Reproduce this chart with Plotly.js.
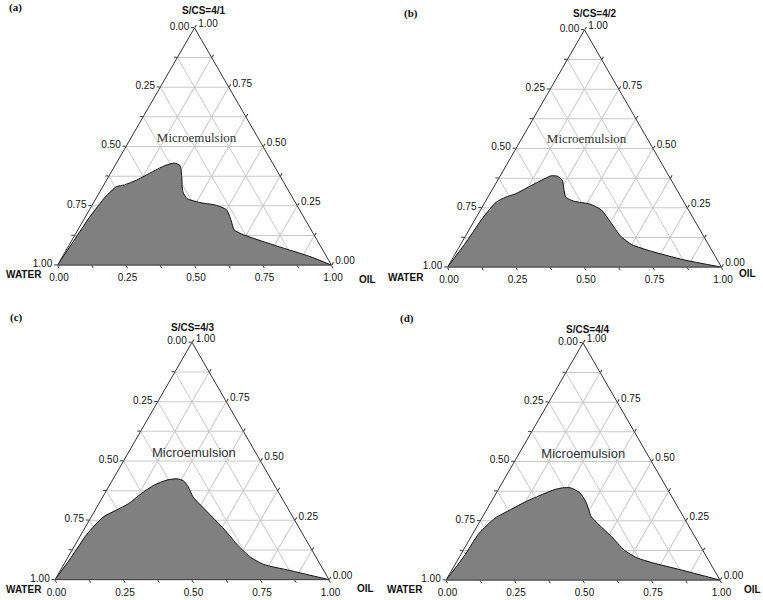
<!DOCTYPE html>
<html>
<head>
<meta charset="utf-8">
<script src="https://cdn.plot.ly/plotly-3.0.1.min.js"></script>
<style>
  html, body { margin: 0; padding: 0; background: #fff; }
  #chart { width: 763px; height: 600px; }
</style>
</head>
<body>
<div id="chart"></div>
<script>
// boundary of the grey region
// s = S/CS mix fraction, oil = oil fraction, water = 1 - s - oil
const ratios = ['S/CS=4/1', 'S/CS=4/2', 'S/CS=4/3', 'S/CS=4/4'];
const panelTags = ['(a)', '(b)', '(c)', '(d)'];

const sA   = [0, 0.104, 0.203, 0.288, 0.331, 0.338, 0.359, 0.394, 0.420, 0.430, 0.420, 0.373, 0.309, 0.281, 0.264, 0.253, 0.234, 0.189, 0.149, 0.128, 0.079, 0.037, 0];
const oilA = [0, 0.008, 0.016, 0.031, 0.050, 0.075, 0.110, 0.150, 0.183, 0.212, 0.237, 0.267, 0.303, 0.332, 0.387, 0.450, 0.499, 0.539, 0.570, 0.615, 0.765, 0.901, 1];

const sB   = [0, 0.110, 0.209, 0.274, 0.295, 0.309, 0.338, 0.366, 0.385, 0.383, 0.366, 0.331, 0.295, 0.278, 0.266, 0.241, 0.188, 0.131, 0.095, 0.067, 0.031, 0];
const oilB = [0, 0.016, 0.025, 0.041, 0.065, 0.094, 0.127, 0.160, 0.186, 0.210, 0.236, 0.259, 0.284, 0.322, 0.386, 0.441, 0.502, 0.566, 0.625, 0.710, 0.846, 1];

const sC   = [0, 0.093, 0.192, 0.264, 0.292, 0.321, 0.363, 0.399, 0.420, 0.425, 0.417, 0.392, 0.349, 0.313, 0.264, 0.207, 0.143, 0.093, 0.064, 0.039, 0];
const oilC = [0, 0.012, 0.021, 0.044, 0.076, 0.109, 0.134, 0.163, 0.199, 0.233, 0.260, 0.290, 0.329, 0.376, 0.442, 0.518, 0.597, 0.669, 0.730, 0.836, 1];

const sD   = [0, 0.097, 0.197, 0.261, 0.297, 0.332, 0.361, 0.382, 0.389, 0.389, 0.368, 0.325, 0.268, 0.233, 0.183, 0.126, 0.094, 0.073, 0.043, 0];
const oilD = [0, 0.015, 0.022, 0.048, 0.087, 0.127, 0.171, 0.206, 0.231, 0.260, 0.305, 0.350, 0.396, 0.442, 0.513, 0.588, 0.650, 0.718, 0.837, 1];

const sets = [[sA, oilA], [sB, oilB], [sC, oilC], [sD, oilD]];

// where the "Microemulsion" label sits: [s, oil]
const labelPos = [[0.533, 0.241], [0.537, 0.239], [0.530, 0.242], [0.528, 0.237]];
const labelFonts = ['Liberation Serif, Times New Roman, serif', 'Liberation Serif, Times New Roman, serif',
                    'Liberation Sans, Arial, sans-serif', 'Liberation Sans, Arial, sans-serif'];

const tickVals = [0, 0.125, 0.25, 0.375, 0.5, 0.625, 0.75, 0.875, 1];
const tickText = ['1.00', '', '0.75', '', '0.50', '', '0.25', '', '0.00'];

// triangle centre (px) for every panel, and triangle width
const centres = [[194.5, 146.5], [584.5, 148.5], [192, 461], [583, 461.5]];
const triW = 274;
const W = 763, H = 600;

// text placed by hand (px): panel tag, top title, WATER, OIL
const tagPos   = [[7, 8], [402, 13], [8, 317], [398, 318]];
const titlePos = [[204, 10], [595, 13], [193, 327], [588, 329]];
const waterPos = [[24, 275], [406, 277], [24, 589], [405, 589]];
const oilPos   = [[367, 279], [747, 273], [365, 588], [752, 589]];

let data = [];
let layout = {
  width: W, height: H,
  margin: {l: 0, r: 0, t: 0, b: 0},
  paper_bgcolor: '#fff',
  showlegend: false,
  font: {family: 'Liberation Sans, Arial, sans-serif', size: 10, color: '#111'},
  annotations: []
};

function axis() {
  return {
    title: {text: ''},
    min: 0,
    tickmode: 'array',
    tickvals: tickVals,
    ticktext: tickText,
    ticks: 'outside',
    ticklen: 3,
    tickwidth: 1,
    tickcolor: '#333',
    tickfont: {size: 10, color: '#111'},
    linecolor: '#333',
    linewidth: 1,
    showgrid: true,
    gridcolor: '#c8c8c8',
    gridwidth: 1
  };
}

function note(p, text, font, anchor) {
  layout.annotations.push({
    xref: 'paper', yref: 'paper',
    x: p[0] / W, y: 1 - p[1] / H,
    xanchor: anchor, yanchor: 'middle',
    showarrow: false,
    text: text,
    font: font
  });
}

sets.forEach(function(set, i) {
  let key = i === 0 ? 'ternary' : 'ternary' + (i + 1);
  let s = set[0], oil = set[1];
  let water = s.map(function(v, k) { return 1 - v - oil[k]; });

  data.push({
    type: 'scatterternary',
    subplot: key,
    mode: 'lines',
    a: s, b: water, c: oil,
    fill: 'toself',
    fillcolor: '#808080',
    line: {color: '#111', width: 1, shape: 'spline', smoothing: 0.6},
    hoverinfo: 'skip'
  });

  let lp = labelPos[i];
  data.push({
    type: 'scatterternary',
    subplot: key,
    mode: 'text',
    a: [lp[0]], b: [1 - lp[0] - lp[1]], c: [lp[1]],
    text: ['Microemulsion'],
    textposition: 'middle center',
    textfont: {family: labelFonts[i], size: 13, color: '#333'},
    hoverinfo: 'skip'
  });

  let cx = centres[i][0], cy = centres[i][1];
  let triH = triW * Math.sqrt(3) / 2;
  layout[key] = {
    domain: {
      x: [(cx - triW / 2) / W, (cx + triW / 2) / W],
      y: [1 - (cy + triH / 2) / H, 1 - (cy - triH / 2) / H]
    },
    sum: 1,
    bgcolor: '#fff',
    aaxis: axis(),
    baxis: axis(),
    caxis: axis()
  };

  let bold = {family: 'Liberation Sans, Arial, sans-serif', size: 10, color: '#111', weight: 'bold'};
  note(tagPos[i], '<b>' + panelTags[i] + '</b>',
       {family: 'Liberation Serif, Times New Roman, serif', size: 11, color: '#111'}, 'left');
  note(titlePos[i], '<b>' + ratios[i] + '</b>', bold, 'center');
  note(waterPos[i], '<b>WATER</b>', bold, 'center');
  note(oilPos[i], '<b>OIL</b>', bold, 'center');
});

Plotly.newPlot('chart', data, layout, {staticPlot: true});
</script>
</body>
</html>
